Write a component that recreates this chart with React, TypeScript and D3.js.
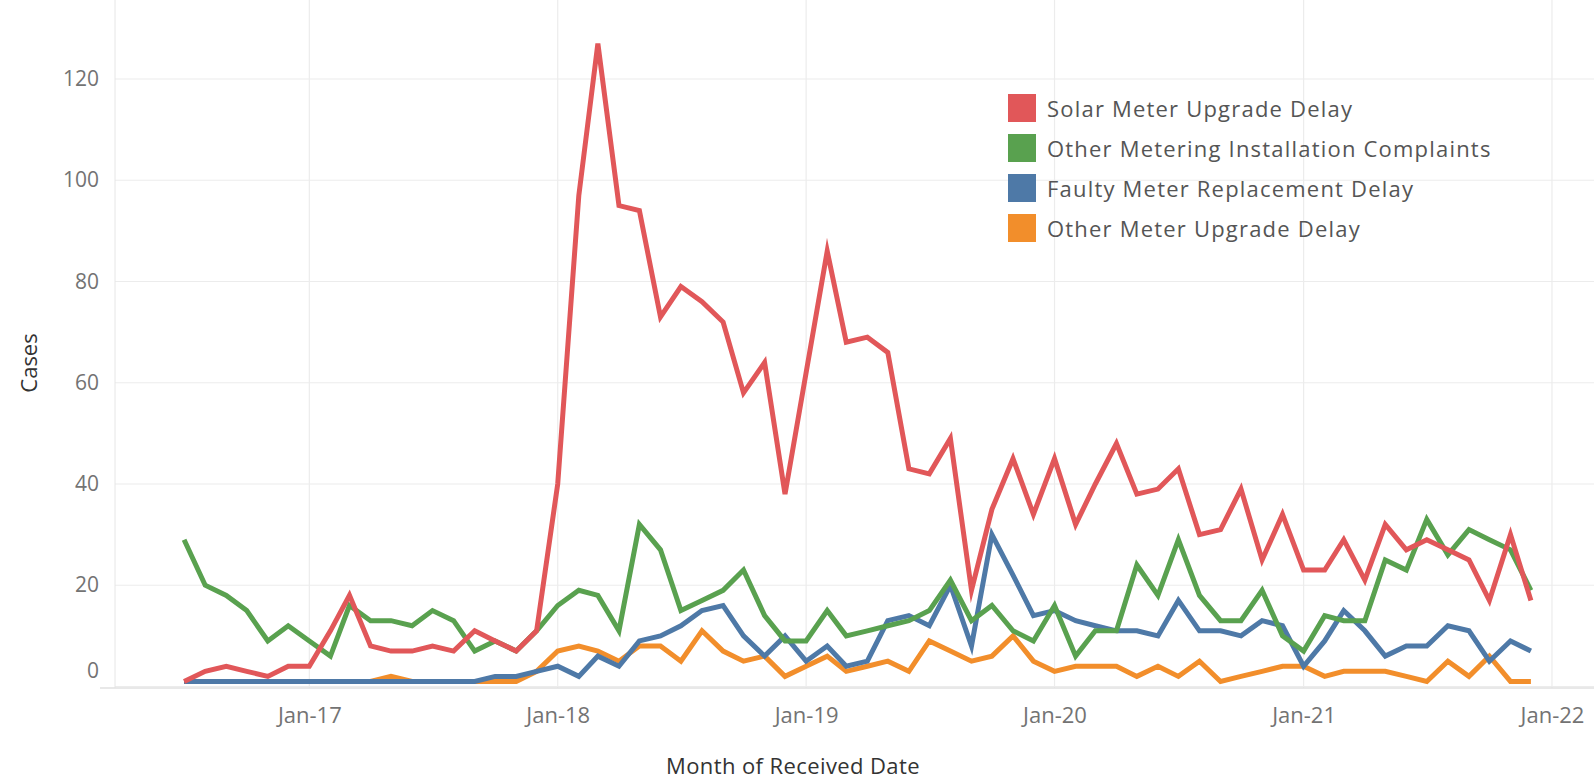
import React, { useEffect, useRef } from "react";
import * as d3 from "d3";

// monthly buckets, Jul-16 .. Dec-21
const months = [
  "2016-07", "2016-08", "2016-09", "2016-10", "2016-11", "2016-12",
  "2017-01", "2017-02", "2017-03", "2017-04", "2017-05", "2017-06", "2017-07", "2017-08", "2017-09", "2017-10", "2017-11", "2017-12",
  "2018-01", "2018-02", "2018-03", "2018-04", "2018-05", "2018-06", "2018-07", "2018-08", "2018-09", "2018-10", "2018-11", "2018-12",
  "2019-01", "2019-02", "2019-03", "2019-04", "2019-05", "2019-06", "2019-07", "2019-08", "2019-09", "2019-10", "2019-11", "2019-12",
  "2020-01", "2020-02", "2020-03", "2020-04", "2020-05", "2020-06", "2020-07", "2020-08", "2020-09", "2020-10", "2020-11", "2020-12",
  "2021-01", "2021-02", "2021-03", "2021-04", "2021-05", "2021-06", "2021-07", "2021-08", "2021-09", "2021-10", "2021-11", "2021-12",
];

const solarMeterUpgradeDelay = [
  1, 3, 4, 3, 2, 4,
  4, 11, 18, 8, 7, 7, 8, 7, 11, 9, 7, 11,
  40, 97, 127, 95, 94, 73, 79, 76, 72, 58, 64, 38,
  62, 86, 68, 69, 66, 43, 42, 49, 19, 35, 45, 34,
  45, 32, 40, 48, 38, 39, 43, 30, 31, 39, 25, 34,
  23, 23, 29, 21, 32, 27, 29, 27, 25, 17, 30, 17,
];

const otherInstallationComplaints = [
  29, 20, 18, 15, 9, 12,
  9, 6, 16, 13, 13, 12, 15, 13, 7, 9, 7, 11,
  16, 19, 18, 11, 32, 27, 15, 17, 19, 23, 14, 9,
  9, 15, 10, 11, 12, 13, 15, 21, 13, 16, 11, 9,
  16, 6, 11, 11, 24, 18, 29, 18, 13, 13, 19, 10,
  7, 14, 13, 13, 25, 23, 33, 26, 31, 29, 27, 19,
];

const faultyReplacementDelay = [
  1, 1, 1, 1, 1, 1,
  1, 1, 1, 1, 1, 1, 1, 1, 1, 2, 2, 3,
  4, 2, 6, 4, 9, 10, 12, 15, 16, 10, 6, 10,
  5, 8, 4, 5, 13, 14, 12, 20, 8, 30, 22, 14,
  15, 13, 12, 11, 11, 10, 17, 11, 11, 10, 13, 12,
  4, 9, 15, 11, 6, 8, 8, 12, 11, 5, 9, 7,
];

const otherUpgradeDelay = [
  1, 1, 1, 1, 1, 1,
  1, 1, 1, 1, 2, 1, 1, 1, 1, 1, 1, 3,
  7, 8, 7, 5, 8, 8, 5, 11, 7, 5, 6, 2,
  4, 6, 3, 4, 5, 3, 9, 7, 5, 6, 10, 5,
  3, 4, 4, 4, 2, 4, 2, 5, 1, 2, 3, 4,
  4, 2, 3, 3, 3, 2, 1, 5, 2, 6, 1, 1,
];

const seriesNames = [
  "Solar Meter Upgrade Delay",
  "Other Metering Installation Complaints",
  "Faulty Meter Replacement Delay",
  "Other Meter Upgrade Delay",
];
const seriesColors = ["#e15759", "#59a14f", "#4e79a7", "#f28e2b"];

const xTickMonths = ["2017-01", "2018-01", "2019-01", "2020-01", "2021-01", "2022-01"];
const yTicks = [0, 20, 40, 60, 80, 100, 120];

const W = 1594;
const H = 779;
const FONT = "'Open Sans', sans-serif";

export default function App() {
  const ref = useRef<SVGSVGElement>(null);

  useEffect(() => {
    const parse = d3.timeParse("%Y-%m");
    const fmt = d3.timeFormat("%b-%y");
    const dates = months.map((m) => parse(m) as Date);
    const allSeries = [
      solarMeterUpgradeDelay,
      otherInstallationComplaints,
      faultyReplacementDelay,
      otherUpgradeDelay,
    ];

    const paneLeft = 115;
    const paneBottom = 688;

    const svg = d3.select(ref.current);
    svg.selectAll("*").remove();

    const x = d3
      .scaleTime()
      .domain([parse("2016-07") as Date, parse("2022-01") as Date])
      .range([184.1, 1552]);
    const y = d3.scaleLinear().domain([0, 120]).range([686.5, 79]);

    svg.append("rect").attr("width", W).attr("height", H).attr("fill", "#fff");

    // gridlines
    const grid = svg.append("g");
    grid
      .selectAll(".hgrid")
      .data(yTicks)
      .enter()
      .append("line")
      .attr("x1", paneLeft)
      .attr("x2", W)
      .attr("y1", (d) => y(d))
      .attr("y2", (d) => y(d))
      .attr("stroke", "#ececec")
      .attr("stroke-width", 1.2);
    grid
      .selectAll(".vgrid")
      .data(xTickMonths)
      .enter()
      .append("line")
      .attr("x1", (d) => x(parse(d) as Date))
      .attr("x2", (d) => x(parse(d) as Date))
      .attr("y1", 0)
      .attr("y2", paneBottom)
      .attr("stroke", "#ececec")
      .attr("stroke-width", 1.2);
    // pane border + base line
    grid
      .append("line")
      .attr("x1", paneLeft)
      .attr("x2", paneLeft)
      .attr("y1", 0)
      .attr("y2", paneBottom)
      .attr("stroke", "#e6e6e6");
    grid
      .append("line")
      .attr("x1", 100)
      .attr("x2", W)
      .attr("y1", paneBottom)
      .attr("y2", paneBottom)
      .attr("stroke", "#e0e0e0")
      .attr("stroke-width", 1.5);

    // lines, orange at the bottom of the stack, red on top
    const line = d3
      .line<number>()
      .x((_, i) => x(dates[i]))
      .y((d) => y(d));
    const order = [3, 2, 1, 0];
    svg
      .append("g")
      .selectAll("path")
      .data(order)
      .enter()
      .append("path")
      .attr("d", (k) => line(allSeries[k]))
      .attr("fill", "none")
      .attr("stroke", (k) => seriesColors[k])
      .attr("stroke-width", 5)
      .attr("stroke-linejoin", "miter")
      .attr("stroke-miterlimit", 6);

    // x axis
    const xAxis = svg
      .append("g")
      .attr("transform", "translate(0," + paneBottom + ")")
      .call(
        d3
          .axisBottom(x)
          .tickValues(xTickMonths.map((d) => parse(d) as Date))
          .tickFormat((d) => fmt(d as Date))
          .tickSize(0)
          .tickPadding(19)
      );
    xAxis.select(".domain").remove();
    xAxis
      .selectAll("text")
      .attr("font-family", FONT)
      .attr("font-size", 22)
      .attr("fill", "#737373");

    // y axis
    const yAxis = svg
      .append("g")
      .attr("transform", "translate(" + paneLeft + ",0)")
      .call(d3.axisLeft(y).tickValues(yTicks).tickSize(0).tickPadding(16));
    yAxis.select(".domain").remove();
    yAxis
      .selectAll("text")
      .attr("font-family", FONT)
      .attr("font-size", 21)
      .attr("fill", "#737373");
    // Tableau pushes the bottom label up inside the pane
    yAxis
      .selectAll<SVGGElement, number>(".tick")
      .filter((d) => d === 0)
      .select("text")
      .attr("dy", "-0.45em");

    // axis titles
    svg
      .append("text")
      .attr("x", 793)
      .attr("y", 765)
      .attr("text-anchor", "middle")
      .attr("dominant-baseline", "central")
      .attr("font-family", FONT)
      .attr("font-size", 22)
      .attr("letter-spacing", 0.4)
      .attr("fill", "#333")
      .text("Month of Received Date");
    svg
      .append("text")
      .attr("transform", "translate(28,363) rotate(-90)")
      .attr("text-anchor", "middle")
      .attr("dominant-baseline", "central")
      .attr("font-family", FONT)
      .attr("font-size", 22)
      .attr("fill", "#333")
      .text("Cases");

    // legend
    const legend = svg
      .append("g")
      .selectAll("g")
      .data(seriesNames)
      .enter()
      .append("g")
      .attr("transform", (_, i) => "translate(1008," + (94 + i * 40) + ")");
    legend
      .append("rect")
      .attr("width", 28)
      .attr("height", 28)
      .attr("fill", (_, i) => seriesColors[i]);
    legend
      .append("text")
      .attr("x", 39)
      .attr("y", 14)
      .attr("dominant-baseline", "central")
      .attr("font-family", FONT)
      .attr("font-size", 22)
      .attr("letter-spacing", 1.2)
      .attr("fill", "#555")
      .text((d) => d);
  }, []);

  return (
    <div style={{ position: "absolute", left: 0, top: 0 }}>
      <svg ref={ref} width={W} height={H} />
    </div>
  );
}
